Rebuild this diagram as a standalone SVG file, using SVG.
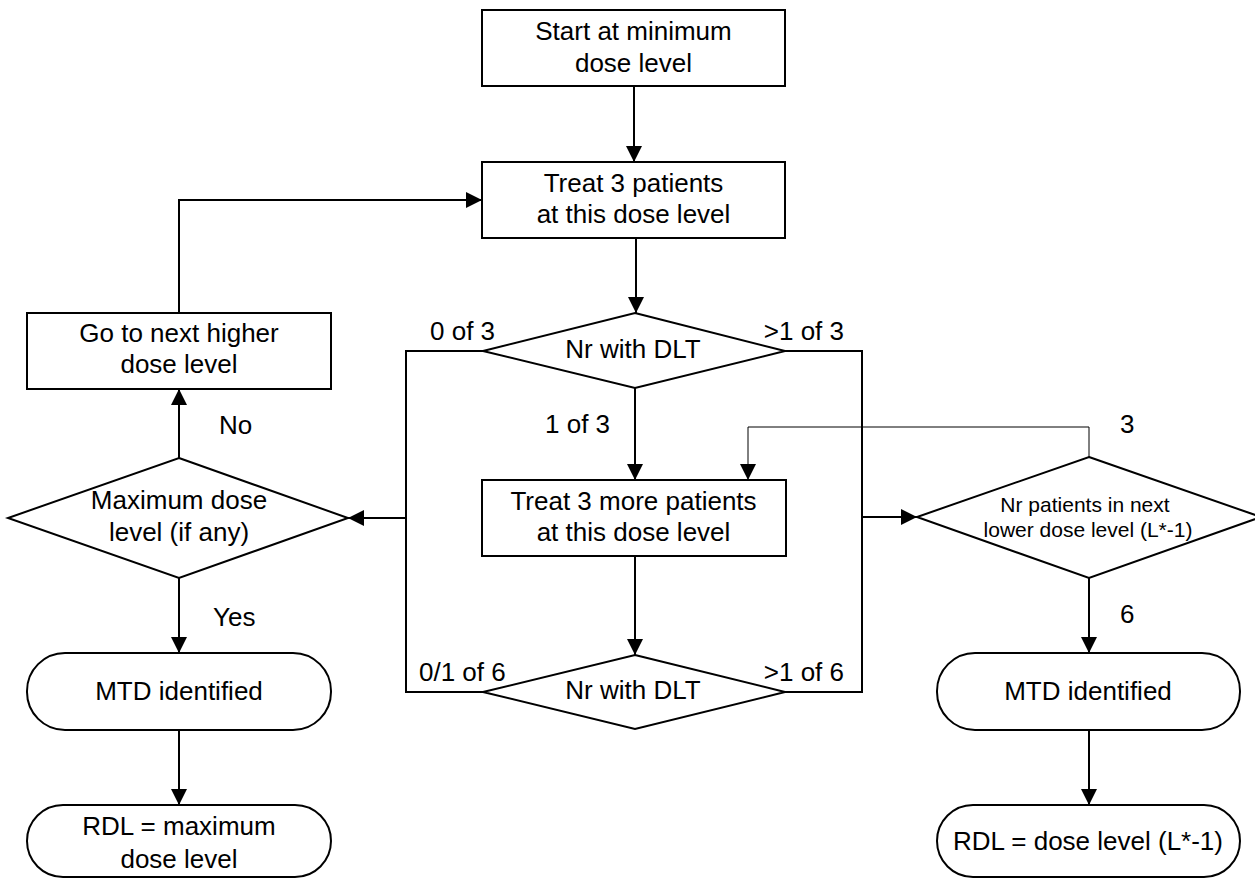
<svg xmlns="http://www.w3.org/2000/svg" width="1255" height="879" viewBox="0 0 1255 879">
<style>
.n{fill:#fff;stroke:#000;stroke-width:2}
.t{font-family:"Liberation Sans",Arial,sans-serif;font-size:26px;fill:#000;text-anchor:middle}
.s{font-family:"Liberation Sans",Arial,sans-serif;font-size:21px;fill:#000;text-anchor:middle}
.l{font-family:"Liberation Sans",Arial,sans-serif;font-size:26px;fill:#000}
.c{fill:none;stroke:#000;stroke-width:2}
.c1{fill:none;stroke:#000;stroke-width:1}
</style>
<defs>
<marker id="ah" markerUnits="userSpaceOnUse" markerWidth="16" markerHeight="16" refX="16" refY="8" orient="auto">
<path d="M0,0 L16,8 L0,16 z" fill="#000"/>
</marker>
</defs>
<rect width="1255" height="879" fill="#fff"/>
<g id="connectors">
<path class="c" d="M634,86 V162" marker-end="url(#ah)"/>
<path class="c" d="M636,238 V313" marker-end="url(#ah)"/>
<path class="c" d="M483,351 H406 V692 H483"/>
<path class="c" d="M785,351 H862 V692 H785"/>
<path class="c" d="M635,388 V480" marker-end="url(#ah)"/>
<path class="c" d="M635,556 V655" marker-end="url(#ah)"/>
<path class="c" d="M406,518 H348" marker-end="url(#ah)"/>
<path class="c" d="M862,517 H917" marker-end="url(#ah)"/>
<path class="c" d="M179,458 V389" marker-end="url(#ah)"/>
<path class="c" d="M179,313 V200 H482" marker-end="url(#ah)"/>
<path class="c" d="M179,578 V653" marker-end="url(#ah)"/>
<path class="c" d="M179,730 V805" marker-end="url(#ah)"/>
<path class="c1" d="M1089,457 V427 H748 V480" marker-end="url(#ah)"/>
<path class="c" d="M1089,578 V653" marker-end="url(#ah)"/>
<path class="c" d="M1089,730 V805" marker-end="url(#ah)"/>
<text class="l" x="430" y="340">0 of 3</text>
<text class="l" x="844" y="340" text-anchor="end">&gt;1 of 3</text>
<text class="l" x="545" y="433">1 of 3</text>
<text class="l" x="419" y="681">0/1 of 6</text>
<text class="l" x="844" y="681" text-anchor="end">&gt;1 of 6</text>
<text class="l" x="219" y="434">No</text>
<text class="l" x="213" y="626">Yes</text>
<text class="l" x="1120" y="433">3</text>
<text class="l" x="1120" y="623">6</text>
</g>
<g id="start">
<rect class="n" x="482" y="10" width="303" height="76"/>
<text class="t" x="633.5" y="40">Start at minimum</text>
<text class="t" x="633.5" y="72">dose level</text>
</g>
<g id="treat3">
<rect class="n" x="482" y="162" width="303" height="76"/>
<text class="t" x="633.5" y="192">Treat 3 patients</text>
<text class="t" x="633.5" y="223">at this dose level</text>
</g>
<g id="dlt1">
<polygon class="n" points="635,313 785,351 635,388 483,351"/>
<text class="t" x="633" y="358">Nr with DLT</text>
</g>
<g id="treat3more">
<rect class="n" x="482" y="480" width="304" height="76"/>
<text class="t" x="633.5" y="510">Treat 3 more patients</text>
<text class="t" x="633.5" y="541">at this dose level</text>
</g>
<g id="dlt2">
<polygon class="n" points="635,655 785,692 635,729 483,692"/>
<text class="t" x="633" y="699">Nr with DLT</text>
</g>
<g id="nexthigher">
<rect class="n" x="27" y="313" width="304" height="76"/>
<text class="t" x="179" y="342">Go to next higher</text>
<text class="t" x="179" y="373">dose level</text>
</g>
<g id="maxdose">
<polygon class="n" points="179,458 348,518 179,578 8,518"/>
<text class="t" x="179" y="509">Maximum dose</text>
<text class="t" x="179" y="541">level (if any)</text>
</g>
<g id="mtd-left">
<rect class="n" x="27" y="653" width="304" height="77" rx="38" ry="38"/>
<text class="t" x="179" y="700">MTD identified</text>
</g>
<g id="rdl-left">
<rect class="n" x="27" y="805" width="304" height="72" rx="36" ry="36"/>
<text class="t" x="179" y="835">RDL = maximum</text>
<text class="t" x="179" y="868">dose level</text>
</g>
<g id="lowerlevel">
<polygon class="n" points="1089,457 1261,517 1089,578 917,517"/>
<text class="s" x="1085" y="512">Nr patients in next</text>
<text class="s" x="1088" y="537">lower dose level (L*-1)</text>
</g>
<g id="mtd-right">
<rect class="n" x="937" y="653" width="303" height="77" rx="38" ry="38"/>
<text class="t" x="1088" y="700">MTD identified</text>
</g>
<g id="rdl-right">
<rect class="n" x="937" y="805" width="303" height="72" rx="36" ry="36"/>
<text class="t" x="1088" y="850">RDL = dose level (L*-1)</text>
</g>
</svg>
